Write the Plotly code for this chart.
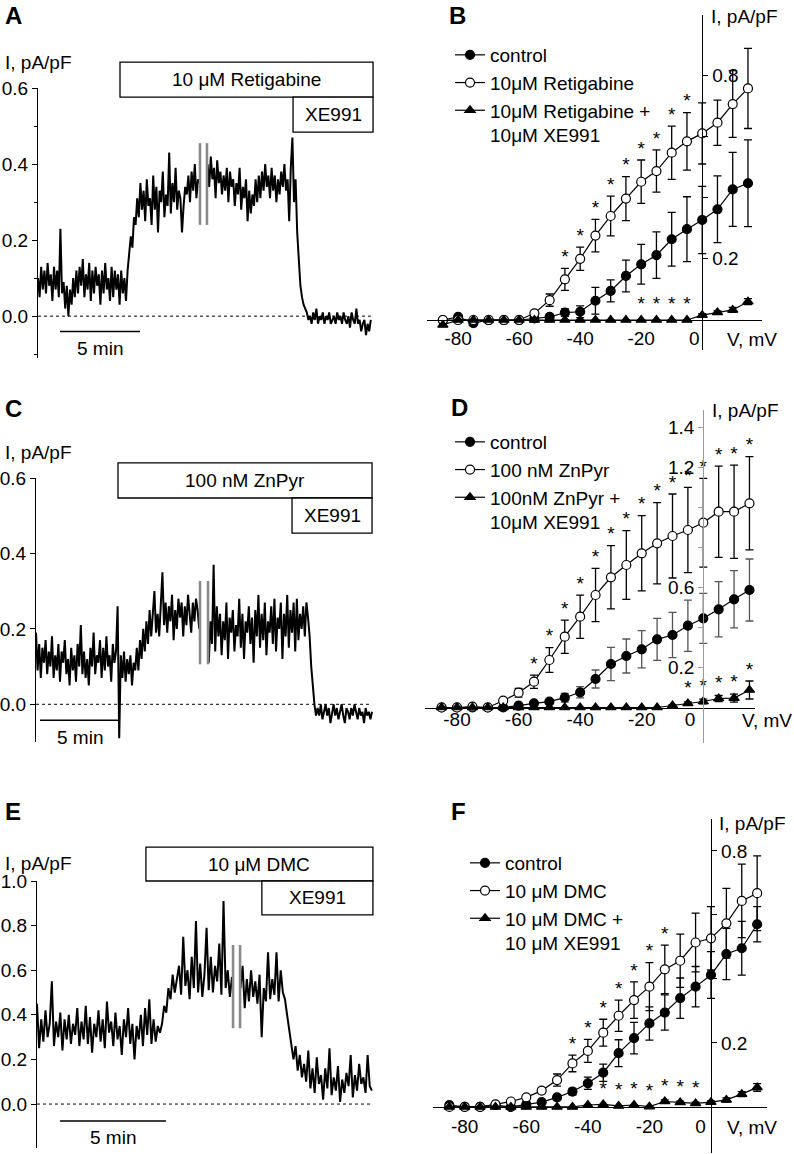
import plotly.graph_objects as go

W, H = 794, 1154
FONT = "Liberation Sans, Arial, sans-serif"

# ---------------- data ----------------
# Time courses (I, pA/pF), uniformly sampled from t = 0
A_dt = 0.1  # min per sample
A_I = [0.10, 0.05, 0.13, 0.07, 0.12, 0.06, 0.14, 0.08, 0.11, 0.04,
       0.13, 0.07, 0.12, 0.05, 0.23, 0.06, 0.09, 0.02, 0.08, 0.00,
       0.07, 0.03, 0.10, 0.05, 0.12, 0.06, 0.13, 0.08, 0.15, 0.05,
       0.11, 0.07, 0.14, 0.04, 0.12, 0.06, 0.13, 0.08, 0.11, 0.03,
       0.12, 0.06, 0.14, 0.07, 0.10, 0.04, 0.13, 0.05, 0.12, 0.07,
       0.11, 0.03, 0.12, 0.06, 0.10, 0.04,
       0.12, 0.16, 0.21, 0.18, 0.26, 0.24, 0.31,
       0.26, 0.35, 0.28, 0.33, 0.25, 0.36, 0.29, 0.31, 0.24, 0.37,
       0.28, 0.34, 0.22, 0.33, 0.30, 0.38, 0.26, 0.32, 0.29, 0.43,
       0.27, 0.35, 0.30, 0.39, 0.28, 0.33, 0.31, 0.22, 0.29, 0.34,
       0.32, 0.37, 0.30, 0.38, 0.33, 0.40, 0.31, 0.36, 0.35,
       None, None, None, None,
       0.40, 0.34, 0.42, 0.36, 0.39, 0.31, 0.41, 0.35, 0.38, 0.32,
       0.37, 0.33, 0.39, 0.30, 0.38, 0.34, 0.36, 0.29, 0.35, 0.32,
       0.39, 0.28, 0.34, 0.31, 0.36, 0.25, 0.33, 0.27, 0.32, 0.29,
       0.36, 0.30, 0.37, 0.31, 0.38, 0.33, 0.40, 0.34, 0.37, 0.31,
       0.39, 0.33, 0.37, 0.30, 0.36, 0.32, 0.38, 0.34, 0.40, 0.33,
       0.36, 0.25, 0.39,
       0.47, 0.30, 0.36, 0.22, 0.14, 0.08, 0.05, 0.03, 0.02,
       0.01, -0.01, 0.00, -0.02, 0.01, -0.01, 0.02, -0.02, 0.00, -0.01,
       0.01, -0.02, 0.00, -0.01, 0.01, -0.02, -0.01, 0.00, -0.02, 0.01,
       -0.01, 0.00, -0.02, 0.01, -0.01, -0.02, 0.00, -0.03, 0.01, -0.01,
       -0.02, 0.02, -0.02, -0.01, -0.04, -0.02, -0.01, -0.05, -0.02, -0.04,
       -0.01]

C_dt = 0.1
C_I = [0.19, 0.09, 0.16, 0.07, 0.15, 0.11, 0.17, 0.08, 0.14, 0.10,
       0.18, 0.07, 0.13, 0.09, 0.16, 0.06, 0.14, 0.11, 0.17, 0.08,
       0.12, 0.05, 0.15, 0.09, 0.13, 0.06, 0.16, 0.10, 0.21, 0.08,
       0.14, 0.07, 0.12, 0.05, 0.15, 0.10, 0.19, 0.08, 0.13, 0.11,
       0.17, 0.07, 0.15, 0.09, 0.18, 0.10, 0.13, 0.06, 0.16, 0.11,
       0.14,
       0.26, -0.09, 0.13,
       0.07, 0.14, 0.06, 0.12, 0.08, 0.13, 0.05, 0.11, 0.09,
       0.15, 0.09, 0.17, 0.12, 0.20, 0.14, 0.22, 0.16, 0.25, 0.18, 0.23, 0.30, 0.19,
       0.24, 0.18, 0.28, 0.35, 0.21, 0.27, 0.19, 0.26, 0.22, 0.29,
       0.17, 0.25, 0.20, 0.28, 0.23, 0.27, 0.18, 0.26, 0.21, 0.29,
       0.24, 0.19, 0.27, 0.22, 0.28, 0.25, 0.20,
       None, None, None, None, None,
       0.11, 0.22, 0.16, 0.37, 0.14, 0.26, 0.18, 0.24, 0.13, 0.22,
       0.17, 0.27, 0.12, 0.23, 0.19, 0.25, 0.14, 0.21, 0.18, 0.28,
       0.15, 0.24, 0.12, 0.22, 0.19, 0.26, 0.16, 0.23, 0.11, 0.25,
       0.18, 0.29, 0.15, 0.24, 0.17, 0.27, 0.13, 0.22, 0.19, 0.26,
       0.16, 0.28, 0.14, 0.23, 0.20, 0.27, 0.12, 0.24, 0.18, 0.29,
       0.15, 0.25, 0.19, 0.27, 0.14, 0.28, 0.17, 0.24, 0.20, 0.26,
       0.18, 0.27,
       0.23, 0.18, 0.10, 0.04, 0.00, -0.03,
       -0.01, -0.03, 0.00, -0.04, -0.02, 0.00, -0.03, -0.01, -0.05, -0.02,
       0.00, -0.03, -0.01, -0.04, -0.02, 0.00, -0.03, -0.05, -0.01, -0.02,
       -0.04, -0.01, -0.03, 0.00, -0.02, -0.04, -0.01, -0.03, -0.02, -0.05,
       -0.01, -0.03, -0.02, -0.04, -0.02]

E_dt = 0.1
E_I = [0.45, 0.25, 0.38, 0.28, 0.42, 0.30, 0.36, 0.55, 0.26, 0.37,
       0.30, 0.41, 0.24, 0.38, 0.29, 0.40, 0.27, 0.36, 0.31, 0.43,
       0.26, 0.37, 0.29, 0.44, 0.27, 0.39, 0.23, 0.36, 0.30, 0.42,
       0.28, 0.38, 0.25, 0.46, 0.32, 0.37, 0.26, 0.41, 0.29, 0.35,
       0.22, 0.38, 0.30, 0.43, 0.27, 0.36, 0.20, 0.35, 0.29, 0.40,
       0.26, 0.43, 0.31, 0.47, 0.27, 0.38, 0.28, 0.35, 0.32,
       0.36, 0.44, 0.41, 0.52, 0.47, 0.58, 0.50, 0.56,
       0.62, 0.49, 0.75, 0.53, 0.60, 0.47, 0.66, 0.52, 0.82, 0.50,
       0.63, 0.48, 0.58, 0.79, 0.51, 0.66, 0.50, 0.62, 0.55, 0.72,
       0.49, 0.91, 0.52, 0.60, 0.48, 0.57,
       None, None, None,
       0.52, 0.62, 0.43, 0.56, 0.46, 0.60, 0.48, 0.55, 0.45, 0.58,
       0.30, 0.52, 0.46, 0.68, 0.47, 0.56, 0.49, 0.68, 0.46, 0.60,
       0.50,
       0.47, 0.40, 0.33, 0.28, 0.20, 0.26, 0.15, 0.22, 0.12, 0.18,
       0.10, 0.24, 0.07, 0.16, 0.05, 0.21, 0.09, 0.13, 0.02, 0.16,
       0.07, 0.25, 0.04, 0.12, 0.06, 0.17, 0.01, 0.11, 0.05, 0.14,
       0.08, 0.22, 0.03, 0.13, 0.06, 0.18, 0.09, 0.12, 0.05, 0.22,
       0.08, 0.06]

# drug application (min): [drug start, XE991 start, end]
A_apps = [5.125, 15.94, 20.94]
C_apps = [5.125, 16.0, 21.0]
E_apps = [5.14, 10.61, 15.85]
A_break = [10.125, 10.56]
C_break = [10.25, 10.75]
E_break = [9.25, 9.58]

# I-V relations
V = [-85, -80, -75, -70, -65, -60, -55, -50, -45, -40, -35, -30, -25, -20, -15, -10, -5, 0, 5, 10, 15]

B_ctrl = [0.0, 0.01, -0.01, 0.0, 0.0, 0.0, 0.005, 0.01, 0.024, 0.027, 0.063, 0.095, 0.144,
          0.182, 0.212, 0.264, 0.297, 0.327, 0.362, 0.427, 0.447]
B_ctrl_err = [0, 0, 0, 0, 0, 0, 0.005, 0.008, 0.012, 0.019, 0.044, 0.036, 0.052, 0.065,
              0.076, 0.088, 0.106, 0.11, 0.109, 0.121, 0.142]
B_drug = [0, 0, 0, 0, 0, 0, 0.022, 0.065, 0.133, 0.20, 0.276, 0.34, 0.397, 0.452, 0.487,
          0.547, 0.584, 0.61, 0.645, 0.706, 0.757]
B_drug_err = [0, 0, 0, 0, 0, 0, 0.005, 0.02, 0.036, 0.038, 0.053, 0.065, 0.072, 0.071, 0.069,
              0.087, 0.094, 0.10, 0.074, 0.109, 0.131]
B_xe = [-0.016, 0, 0, 0, 0, 0, 0, 0, 0, 0, 0, 0, 0, 0, 0, 0, 0, 0.016, 0.025, 0.033, 0.06]
B_xe_err = [0, 0, 0, 0, 0, 0, 0, 0, 0, 0, 0, 0, 0, 0, 0, 0, 0, 0.005, 0.005, 0.008, 0.01]
B_star_drug = [-45, -40, -35, -30, -25, -20, -15, -10, -5]
B_star_xe = [-20, -15, -10, -5]

D_ctrl = [0, 0, 0, 0, 0, 0.009, 0.021, 0.029, 0.049, 0.076, 0.1425, 0.2175, 0.2575, 0.291,
          0.341, 0.3625, 0.409, 0.446, 0.491, 0.541, 0.5875]
D_ctrl_err = [0, 0, 0, 0, 0, 0, 0.005, 0.01, 0.022, 0.028, 0.045, 0.083, 0.085, 0.093, 0.105,
              0.113, 0.128, 0.125, 0.138, 0.143, 0.155]
D_drug = [0, 0, 0.004, 0, 0.034, 0.074, 0.129, 0.2375, 0.354, 0.454, 0.5625, 0.651, 0.7125,
          0.771, 0.821, 0.8575, 0.8875, 0.924, 0.979, 0.979, 1.021]
D_drug_err = [0, 0, 0, 0, 0.01, 0.022, 0.033, 0.062, 0.083, 0.108, 0.133, 0.158, 0.172, 0.188,
              0.203, 0.21, 0.213, 0.222, 0.228, 0.233, 0.233]
D_xe = [0, 0, 0, 0, 0, 0, 0, 0, 0, 0, 0, 0, 0, 0, 0, 0.01, 0.02, 0.03, 0.045, 0.047, 0.0875]
D_xe_err = [0, 0, 0, 0, 0, 0, 0, 0, 0, 0, 0, 0, 0, 0, 0, 0.004, 0.008, 0.012, 0.015, 0.02, 0.045]
D_star_drug = [-55, -50, -45, -40, -35, -30, -25, -20, -15, -10, -5, 0, 5, 10, 15]
D_star_xe = [-5, 0, 5, 10, 15]

F_ctrl = [0.006, 0, 0, 0.006, 0, 0.008, 0.015, 0.03, 0.048, 0.074, 0.107, 0.168, 0.215, 0.261,
          0.295, 0.34, 0.376, 0.4125, 0.478, 0.496, 0.571]
F_ctrl_err = [0, 0, 0, 0, 0, 0, 0.005, 0.008, 0.01, 0.019, 0.027, 0.042, 0.049, 0.052, 0.055,
              0.063, 0.063, 0.073, 0.08, 0.084, 0.055]
F_drug = [0, 0, 0, 0.008, 0.017, 0.03, 0.051, 0.084, 0.136, 0.175, 0.232, 0.285, 0.334, 0.376,
          0.43, 0.457, 0.514, 0.527, 0.574, 0.644, 0.668]
F_drug_err = [0, 0, 0, 0, 0, 0.005, 0.008, 0.019, 0.026, 0.036, 0.042, 0.049, 0.057, 0.075,
              0.076, 0.083, 0.092, 0.099, 0.109, 0.115, 0.117]
F_xe = [0, 0, 0, 0, 0, 0, 0, 0, 0, 0.006, 0.008, 0.003, 0.006, 0.001, 0.017, 0.014, 0.011,
        0.015, 0.022, 0.04, 0.061]
F_xe_err = [0, 0, 0, 0, 0, 0, 0, 0, 0, 0, 0, 0, 0, 0, 0.005, 0.004, 0.004, 0.004, 0.006, 0.008, 0.012]
F_star_drug = [-45, -40, -35, -30, -25, -20, -15]
F_star_xe = [-40, -35, -30, -25, -20, -15, -10, -5]

# ---------------- geometry (pixels) ----------------
G = {
    'A': dict(px=(38, 376), py=(88, 358), xr=(0, 21.125), yr=(-0.11, 0.6)),
    'C': dict(px=(36, 373), py=(478, 742), xr=(0, 21.06), yr=(-0.1, 0.6)),
    'E': dict(px=(37, 374), py=(881, 1148), xr=(0, 15.9), yr=(-0.197, 1.0)),
    'B': dict(px=(427, 762), py=(15, 350), xr=(-90.2, 19.6), yr=(-0.098, 0.997)),
    'D': dict(px=(425, 755), py=(410, 743), xr=(-90.4, 16.8), yr=(-0.1775, 1.4875)),
    'F': dict(px=(433, 767), py=(819, 1153), xr=(-90.3, 18.2), yr=(-0.144, 0.9)),
}
AX = {'A': ('x', 'y'), 'B': ('x2', 'y2'), 'C': ('x3', 'y3'),
      'D': ('x4', 'y4'), 'E': ('x5', 'y5'), 'F': ('x6', 'y6')}


def PX(p, xv):
    g = G[p]; a, b = g['px']; r0, r1 = g['xr']
    return (a + (xv - r0) / (r1 - r0) * (b - a)) / W


def PY(p, yv):
    g = G[p]; t, bm = g['py']; r0, r1 = g['yr']
    return 1 - (bm - (yv - r0) / (r1 - r0) * (bm - t)) / H


def upp(p):  # data units per pixel (y)
    g = G[p]; t, bm = g['py']; r0, r1 = g['yr']
    return (r1 - r0) / (bm - t)


fig = go.Figure()
shapes, annos = [], []
layout = {}


def txt(x, y, s, size=19, xanchor='center', yanchor='middle', bold=False, xref='paper', yref='paper'):
    annos.append(dict(x=x, y=y, xref=xref, yref=yref, text=('<b>%s</b>' % s) if bold else s,
                      showarrow=False, xanchor=xanchor, yanchor=yanchor,
                      font=dict(size=size, family=FONT, color='black')))


def pxl(xp, yp):
    return xp / W, 1 - yp / H


# ---------------- time-course panels ----------------
def time_panel(p, I, dt, apps, brk, ymajor, minor, drug_label, box_rows, bar, bar_y, txt_y):
    xa, ya = AX[p]
    t = [i * dt for i in range(len(I))]
    fig.add_trace(go.Scatter(x=t, y=I, mode='lines', line=dict(color='black', width=2.0),
                             xaxis=xa, yaxis=ya, showlegend=False, connectgaps=False))
    g = G[p]
    k = xa.replace('x', 'xaxis'); ky = ya.replace('y', 'yaxis')
    layout[k] = dict(domain=[g['px'][0] / W, g['px'][1] / W], range=list(g['xr']),
                     visible=False, anchor=ya)
    yd = dict(domain=[1 - g['py'][1] / H, 1 - g['py'][0] / H], range=list(g['yr']),
              anchor=xa, showline=True, linecolor='black', linewidth=1.3, ticks='outside',
              ticklen=5, tickwidth=1.2, tickcolor='black', tickvals=ymajor,
              ticktext=['%.1f' % v for v in ymajor], showgrid=False, zeroline=False,
              tickfont=dict(size=19, family=FONT, color='black'))
    if minor:
        yd['minor'] = dict(tickvals=minor, ticks='outside', ticklen=3, tickcolor='black', tickwidth=1.2)
    layout[ky] = yd
    # dotted zero line
    shapes.append(dict(type='line', xref=xa, yref=ya, x0=0, x1=t[-1], y0=0, y1=0,
                       line=dict(color='black', width=1, dash='dot')))
    # break marks
    for b in brk:
        shapes.append(dict(type='line', xref=xa, yref=ya, x0=b, x1=b, y0=box_rows[3], y1=box_rows[4],
                           line=dict(color='#8a8a8a', width=2.6)))
    # application boxes
    r0, r1, r2 = box_rows[0], box_rows[1], box_rows[2]
    shapes.append(dict(type='rect', xref='paper', yref='paper', x0=PX(p, apps[0]), x1=PX(p, apps[2]),
                       y0=PY(p, r1), y1=PY(p, r0), line=dict(color='black', width=1.3),
                       fillcolor='white'))
    shapes.append(dict(type='rect', xref='paper', yref='paper', x0=PX(p, apps[1]), x1=PX(p, apps[2]),
                       y0=PY(p, r2), y1=PY(p, r1), line=dict(color='black', width=1.3),
                       fillcolor='white'))
    txt((PX(p, apps[0]) + PX(p, apps[2])) / 2, (PY(p, r0) + PY(p, r1)) / 2, drug_label)
    txt((PX(p, apps[1]) + PX(p, apps[2])) / 2, (PY(p, r1) + PY(p, r2)) / 2, 'XE991')
    # 5-min scale bar
    shapes.append(dict(type='line', xref=xa, yref=ya, x0=bar, x1=bar + 5, y0=bar_y, y1=bar_y,
                       line=dict(color='black', width=1.5)))
    txt(bar + 2.5, txt_y, '5 min', xref=xa, yref=ya)


time_panel('A', A_I, A_dt, A_apps, A_break, [0, 0.2, 0.4, 0.6], [-0.1, 0.1, 0.3, 0.5],
           '10 \u03bcM Retigabine', [0.668, 0.576, 0.484, 0.455, 0.24], 1.375, -0.04, -0.084)
time_panel('C', C_I, C_dt, C_apps, C_break, [0, 0.2, 0.4, 0.6], None,
           '100 nM ZnPyr', [0.64, 0.547, 0.454, 0.327, 0.106], 0.25, -0.042, -0.087)
time_panel('E', E_I, E_dt, E_apps, E_break, [0, 0.2, 0.4, 0.6, 0.8, 1.0], None,
           '10 \u03bcM DMC', [1.152, 1.0, 0.848, 0.713, 0.34], 1.085, -0.076, -0.148)

# ---------------- I-V panels ----------------
def iv_panel(p, series, stars, leg, side, ylab_vals, ylab_text, axcol, zero_lbl, standoff,
             ilab, vlab):
    xa, ya = AX[p]
    g = G[p]
    for name, y, e, sym, fill, ecol in series:
        fig.add_trace(go.Scatter(
            x=V, y=y, mode='lines+markers', name=name, legend=leg,
            error_y=dict(type='data', array=e, visible=True, color=ecol, thickness=1.3, width=4),
            line=dict(color='black', width=1.2),
            marker=dict(symbol=sym, size=9, color=fill, line=dict(color='black', width=1.2)),
            xaxis=xa, yaxis=ya, cliponaxis=False))
    pad = 4.5 * upp(p)
    for volts, y, e in stars:
        idx = [V.index(v) for v in volts]
        fig.add_trace(go.Scatter(
            x=volts, y=[y[i] + max(e[i], pad) + 0.5 * upp(p) for i in idx], mode='text',
            text=['*'] * len(idx), textposition='top center',
            textfont=dict(size=19, family=FONT, color='black'),
            xaxis=xa, yaxis=ya, showlegend=False, cliponaxis=False, hoverinfo='skip'))
    k = xa.replace('x', 'xaxis'); ky = ya.replace('y', 'yaxis')
    layout[k] = dict(domain=[g['px'][0] / W, g['px'][1] / W], range=list(g['xr']),
                     anchor='free', position=PY(p, 0), showline=True, linecolor='black',
                     linewidth=1.3, ticks='', tickvals=[-80, -60, -40, -20, 0],
                     ticktext=['-80', '-60', '-40', '-20', zero_lbl], showgrid=False,
                     zeroline=False, ticklabelstandoff=standoff,
                     tickfont=dict(size=19, family=FONT, color='black'))
    layout[ky] = dict(domain=[1 - g['py'][1] / H, 1 - g['py'][0] / H], range=list(g['yr']),
                      anchor='free', position=PX(p, 0), side=side, showline=True,
                      linecolor=axcol, linewidth=1.3, ticks='outside', ticklen=5,
                      tickcolor=axcol, tickwidth=1.2, tickvals=ylab_vals, ticktext=ylab_text,
                      showgrid=False, zeroline=False,
                      tickfont=dict(size=19, family=FONT, color='black'))
    txt(*pxl(*ilab), 'I, pA/pF', xanchor='left')
    txt(*pxl(*vlab), 'V, mV', xanchor='left')


NB = '\u00a0'
iv_panel('B', [('control', B_ctrl, B_ctrl_err, 'circle', 'black', 'black'),
               ('10\u03bcM Retigabine', B_drug, B_drug_err, 'circle', 'white', 'black'),
               ('10\u03bcM Retigabine +<br>10\u03bcM XE991', B_xe, B_xe_err, 'triangle-up', 'black', 'black')],
         [(B_star_drug, B_drug, B_drug_err), (B_star_xe, B_xe, B_xe_err)], 'legend', 'right',
         [0.2, 0.4, 0.6, 0.8], ['0.2', '', '', '0.8'], 'black', '0' + NB * 3, 1,
         (709, 17), (725, 340))
iv_panel('D', [('control', D_ctrl, D_ctrl_err, 'circle', 'black', '#555555'),
               ('100 nM ZnPyr', D_drug, D_drug_err, 'circle', 'white', 'black'),
               ('100nM ZnPyr +<br>10\u03bcM XE991', D_xe, D_xe_err, 'triangle-up', 'black', 'black')],
         [(D_star_drug, D_drug, D_drug_err), (D_star_xe, D_xe, D_xe_err)], 'legend2', 'left',
         [0.2, 0.4, 0.6, 0.8, 1.0, 1.2, 1.4], ['0.2', '', '0.6', '', '', '1.2', '1.4'],
         '#9a9a9a', '0' + NB * 5, -5, (710, 410), (740, 720))
iv_panel('F', [('control', F_ctrl, F_ctrl_err, 'circle', 'black', 'black'),
               ('10 \u03bcM DMC', F_drug, F_drug_err, 'circle', 'white', 'black'),
               ('10 \u03bcM DMC +<br>10 \u03bcM XE991', F_xe, F_xe_err, 'triangle-up', 'black', 'black')],
         [(F_star_drug, F_drug, F_drug_err), (F_star_xe, F_xe, F_xe_err)], 'legend3', 'right',
         [0.2, 0.4, 0.6, 0.8], ['0.2', '', '', '0.8'], 'black', '0' + NB * 4, 2,
         (717, 823), (725, 1127))

# y-axis titles of time panels
txt(*pxl(3, 63), 'I, pA/pF', xanchor='left')
txt(*pxl(3, 452), 'I, pA/pF', xanchor='left')
txt(*pxl(3, 863), 'I, pA/pF', xanchor='left')

# panel letters
for L, (xp, yp) in {'A': (3, 15), 'B': (447, 15), 'C': (3, 408), 'D': (449, 407),
                    'E': (3, 812), 'F': (449, 812)}.items():
    txt(*pxl(xp, yp), L, size=24, xanchor='left', bold=True)


def legend_at(xp, yp):
    x, y = pxl(xp, yp)
    return dict(x=x, y=y, xanchor='left', yanchor='top', bgcolor='rgba(0,0,0,0)',
                borderwidth=0, font=dict(size=19, family=FONT, color='black'),
                valign='top', itemwidth=30, traceorder='normal', tracegroupgap=0)


layout['legend'] = legend_at(450, 36)
layout['legend2'] = legend_at(450, 423)
layout['legend3'] = legend_at(465, 844)

fig.update_layout(width=W, height=H, margin=dict(l=0, r=0, t=0, b=0),
                  paper_bgcolor='white', plot_bgcolor='rgba(0,0,0,0)', template='none',
                  font=dict(family=FONT, size=19, color='black'),
                  shapes=shapes, annotations=annos, **layout)

fig.write_html("out.html", config={'displayModeBar': False},
               post_script="document.body.style.margin='0';")
